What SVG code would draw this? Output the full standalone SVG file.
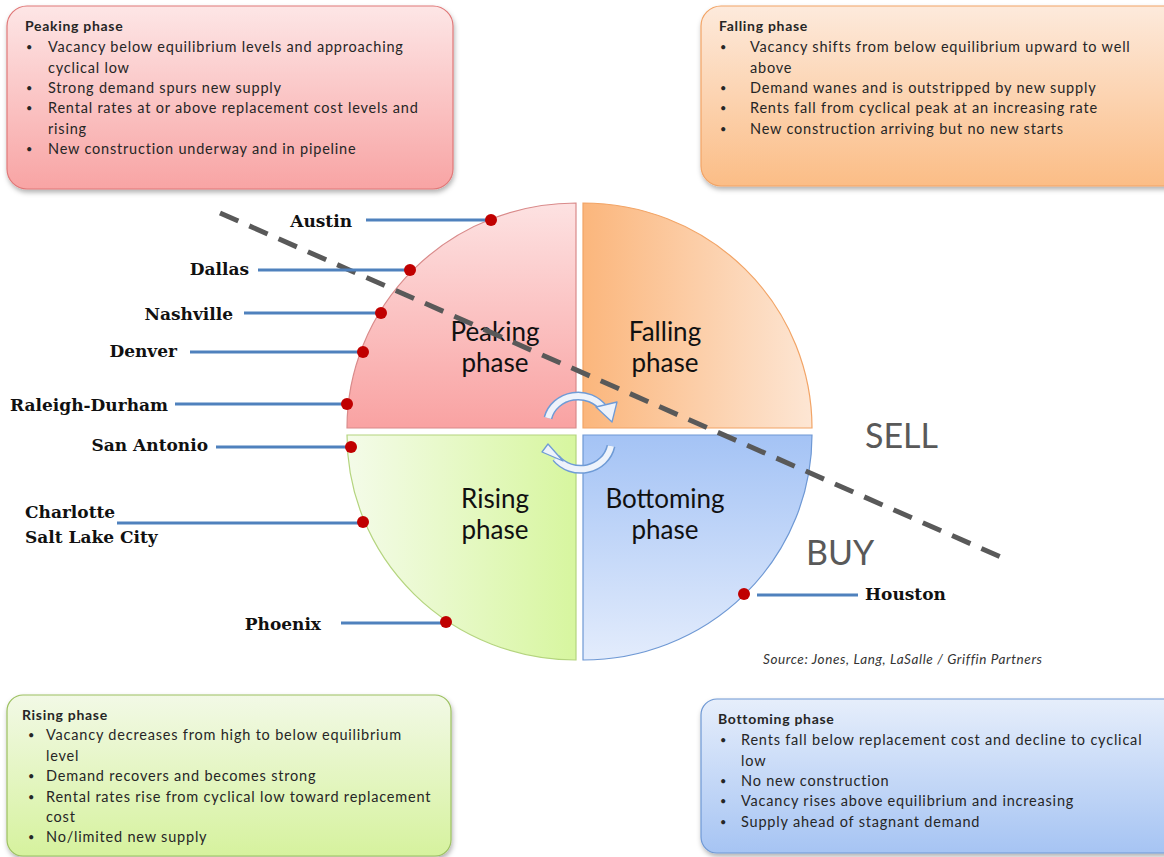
<svg xmlns="http://www.w3.org/2000/svg" width="1164" height="857" viewBox="0 0 1164 857">
<defs>
<linearGradient id="gPeakBox" x1="0" y1="0" x2="0" y2="1"><stop offset="0" stop-color="#fde6e6"/><stop offset="1" stop-color="#f8a4a4"/></linearGradient>
<linearGradient id="gFallBox" x1="0" y1="0" x2="0" y2="1"><stop offset="0" stop-color="#fdeadc"/><stop offset="1" stop-color="#fbbd86"/></linearGradient>
<linearGradient id="gRiseBox" x1="0" y1="0" x2="0" y2="1"><stop offset="0" stop-color="#f2f9e6"/><stop offset="1" stop-color="#d6f29e"/></linearGradient>
<linearGradient id="gBotBox" x1="0" y1="0" x2="0" y2="1"><stop offset="0" stop-color="#e6eefb"/><stop offset="1" stop-color="#a6c4f3"/></linearGradient>
<linearGradient id="gPeak" x1="0" y1="0" x2="0" y2="1"><stop offset="0" stop-color="#fde2e2"/><stop offset="1" stop-color="#f9a2a2"/></linearGradient>
<linearGradient id="gFall" x1="0" y1="0" x2="1" y2="0"><stop offset="0" stop-color="#fbb67c"/><stop offset="1" stop-color="#fde6d4"/></linearGradient>
<linearGradient id="gRise" x1="0" y1="0" x2="1" y2="0"><stop offset="0" stop-color="#f4fbe9"/><stop offset="1" stop-color="#d7f69f"/></linearGradient>
<linearGradient id="gBot" x1="0" y1="0" x2="0" y2="1"><stop offset="0" stop-color="#a4c3f5"/><stop offset="1" stop-color="#e3ecfc"/></linearGradient>
<filter id="sh" x="-10%" y="-10%" width="120%" height="130%"><feDropShadow dx="1" dy="3" stdDeviation="2.5" flood-color="#000" flood-opacity="0.3"/></filter>
<style>
.bt{font-family:Lato,"Open Sans",sans-serif;font-size:14.5px;letter-spacing:0.8px;fill:#262626}
.bu{font-size:11px}
.bh{font-family:Lato,"Open Sans",sans-serif;font-size:14px;font-weight:bold;letter-spacing:0.7px;fill:#262626}
.ql{font-family:Lato,"Open Sans",sans-serif;font-size:26px;fill:#111;text-anchor:middle}
.city{font-family:"DejaVu Serif",serif;font-size:17px;font-weight:bold;fill:#111}
.cl{stroke:#4f81bd;stroke-width:3;fill:none}
.dot{fill:#c00000}
.bs{font-family:Lato,"Open Sans",sans-serif;font-size:34px;fill:#595959}
</style>
</defs>

<g id="peaking-box">
<rect x="7" y="6" width="446" height="183" rx="20" fill="url(#gPeakBox)" stroke="#e07878" stroke-width="1.2" filter="url(#sh)"/>
<text class="bh" x="25" y="31">Peaking phase</text>
<g class="bt">
<text class="bu" x="26" y="51">•</text><text x="48" y="52">Vacancy below equilibrium levels and approaching</text>
<text x="48" y="73">cyclical low</text>
<text class="bu" x="26" y="92">•</text><text x="48" y="93">Strong demand spurs new supply</text>
<text class="bu" x="26" y="112">•</text><text x="48" y="113">Rental rates at or above replacement cost levels and</text>
<text x="48" y="134">rising</text>
<text class="bu" x="26" y="153">•</text><text x="48" y="154">New construction underway and in pipeline</text>
</g>
</g>

<g id="falling-box">
<rect x="701" y="6" width="490" height="180" rx="20" fill="url(#gFallBox)" stroke="#f2a466" stroke-width="1.2" filter="url(#sh)"/>
<text class="bh" x="719" y="31">Falling phase</text>
<g class="bt">
<text class="bu" x="720" y="51">•</text><text x="750" y="52">Vacancy shifts from below equilibrium upward to well</text>
<text x="750" y="73">above</text>
<text class="bu" x="720" y="92">•</text><text x="750" y="93">Demand wanes and is outstripped by new supply</text>
<text class="bu" x="720" y="112">•</text><text x="750" y="113">Rents fall from cyclical peak at an increasing rate</text>
<text class="bu" x="720" y="133">•</text><text x="750" y="134">New construction arriving but no new starts</text>
</g>
</g>

<g id="rising-box">
<rect x="7" y="695" width="444" height="161" rx="16" fill="url(#gRiseBox)" stroke="#9cc060" stroke-width="1.2" filter="url(#sh)"/>
<text class="bh" x="22" y="720">Rising phase</text>
<g class="bt">
<text class="bu" x="28" y="739">•</text><text x="46" y="740">Vacancy decreases from high to below equilibrium</text>
<text x="46" y="761">level</text>
<text class="bu" x="28" y="780">•</text><text x="46" y="781">Demand recovers and becomes strong</text>
<text class="bu" x="28" y="801">•</text><text x="46" y="802">Rental rates rise from cyclical low toward replacement</text>
<text x="46" y="822">cost</text>
<text class="bu" x="28" y="841">•</text><text x="46" y="842">No/limited new supply</text>
</g>
</g>

<g id="bottoming-box">
<rect x="701" y="699" width="480" height="154" rx="16" fill="url(#gBotBox)" stroke="#6e98d4" stroke-width="1.2" filter="url(#sh)"/>
<text class="bh" x="718" y="724">Bottoming phase</text>
<g class="bt">
<text class="bu" x="720" y="744">•</text><text x="741" y="745">Rents fall below replacement cost and decline to cyclical</text>
<text x="741" y="766">low</text>
<text class="bu" x="720" y="785">•</text><text x="741" y="786">No new construction</text>
<text class="bu" x="720" y="805">•</text><text x="741" y="806">Vacancy rises above equilibrium and increasing</text>
<text class="bu" x="720" y="826">•</text><text x="741" y="827">Supply ahead of stagnant demand</text>
</g>
</g>

<g id="peaking">
<path d="M576,428 L347,428 A229,225 0 0 1 576,203 Z" fill="url(#gPeak)" stroke="#d98a8a" stroke-width="1.2"/>
<text class="ql" x="495" y="341">Peaking</text>
<text class="ql" x="495" y="372">phase</text>
</g>
<g id="falling">
<path d="M583,428 L583,203 A229,225 0 0 1 812,428 Z" fill="url(#gFall)" stroke="#f2a466" stroke-width="1.2"/>
<text class="ql" x="665" y="341">Falling</text>
<text class="ql" x="665" y="372">phase</text>
</g>
<g id="rising">
<path d="M576,435 L347,435 A229,225 0 0 0 576,660 Z" fill="url(#gRise)" stroke="#b4d47e" stroke-width="1.2"/>
<text class="ql" x="495" y="508">Rising</text>
<text class="ql" x="495" y="539">phase</text>
</g>
<g id="bottoming">
<path d="M583,435 L812,435 A229,225 0 0 1 583,660 Z" fill="url(#gBot)" stroke="#6e98d4" stroke-width="1.2"/>
<text class="ql" x="665" y="508">Bottoming</text>
<text class="ql" x="665" y="539">phase</text>
</g>

<g id="cycle-arrows">
<path d="M548,418 A31,29 0 0 1 604,409" fill="none" stroke="#6f9bd6" stroke-width="9"/>
<path d="M548,418 A31,29 0 0 1 604,409" fill="none" stroke="#eef3fb" stroke-width="6"/>
<polygon points="596,407 617,402 612,422" fill="#eef3fb" stroke="#6f9bd6" stroke-width="1.3" stroke-linejoin="round"/>
<path d="M611,446 A31,29 0 0 1 556,458" fill="none" stroke="#6f9bd6" stroke-width="9"/>
<path d="M611,446 A31,29 0 0 1 556,458" fill="none" stroke="#eef3fb" stroke-width="6"/>
<polygon points="563,461 542,452 548,444" fill="#eef3fb" stroke="#6f9bd6" stroke-width="1.3" stroke-linejoin="round"/>
</g>

<g id="connectors">
<line x1="220" y1="213" x2="1003" y2="558" stroke="#595959" stroke-width="5" stroke-dasharray="20,12"/>
<line class="cl" x1="366" y1="220" x2="491" y2="220"/>
<line class="cl" x1="258" y1="270" x2="410" y2="270"/>
<line class="cl" x1="244" y1="313" x2="381" y2="313"/>
<line class="cl" x1="190" y1="352" x2="363" y2="352"/>
<line class="cl" x1="175" y1="404" x2="347" y2="404"/>
<line class="cl" x1="216" y1="447" x2="351" y2="447"/>
<line class="cl" x1="117" y1="523" x2="363" y2="523"/>
<line class="cl" x1="341" y1="623" x2="446" y2="623"/>
<line class="cl" x1="757" y1="595" x2="858" y2="595"/>
<circle class="dot" cx="491" cy="220" r="6"/>
<circle class="dot" cx="410" cy="270" r="6"/>
<circle class="dot" cx="381" cy="313" r="6"/>
<circle class="dot" cx="363" cy="352" r="6"/>
<circle class="dot" cx="347" cy="404" r="6"/>
<circle class="dot" cx="351" cy="447" r="6"/>
<circle class="dot" cx="363" cy="522" r="6"/>
<circle class="dot" cx="446" cy="622" r="6"/>
<circle class="dot" cx="744" cy="594" r="6"/>
</g>

<g id="cities">
<text class="city" x="352" y="227" text-anchor="end">Austin</text>
<text class="city" x="249" y="275" text-anchor="end">Dallas</text>
<text class="city" x="233" y="320" text-anchor="end">Nashville</text>
<text class="city" x="177" y="357" text-anchor="end">Denver</text>
<text class="city" x="168" y="411" text-anchor="end">Raleigh-Durham</text>
<text class="city" x="208" y="451" text-anchor="end">San Antonio</text>
<text class="city" x="25" y="518">Charlotte</text>
<text class="city" x="25" y="543">Salt Lake City</text>
<text class="city" x="321" y="630" text-anchor="end">Phoenix</text>
<text class="city" x="865" y="600">Houston</text>
</g>

<g id="labels">
<text class="bs" x="865" y="448">SELL</text>
<text class="bs" x="806" y="565">BUY</text>
<text x="763" y="664" font-family="Lato,'Open Sans',sans-serif" font-size="13.5" font-style="italic" letter-spacing="0.6" fill="#333">Source: Jones, Lang, LaSalle / Griffin Partners</text>
</g>
</svg>
